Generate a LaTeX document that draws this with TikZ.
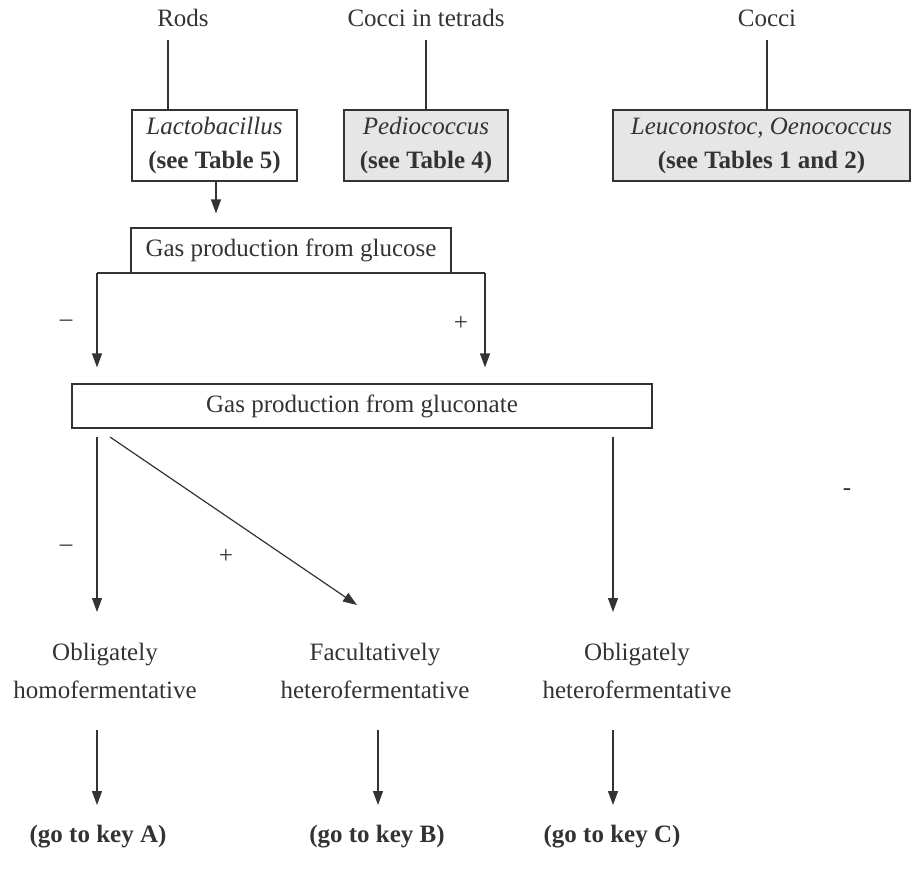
\documentclass[tikz,border=0pt]{standalone}
\usepackage{fontspec}
\setmainfont{Liberation Serif}
\usetikzlibrary{arrows.meta}
\definecolor{ink}{HTML}{333333}
\definecolor{boxgray}{HTML}{E6E6E6}
\tikzset{
  txt/.style={inner sep=0pt, align=center, text=ink, font=\fontsize{12.5}{19}\selectfont},
  keybox/.style={draw=ink, line width=0.6pt, inner sep=0pt, align=center, text=ink, font=\fontsize{12.5}{17}\selectfont},
  arr/.style={-{Triangle[length=7pt,width=5pt]}},
}
\begin{document}
\begin{tikzpicture}[x=0.5pt,y=-0.5pt,line width=0.6pt,draw=ink]
  \useasboundingbox (0,0) rectangle (911,880);
  % oberste Reihe
  \node [txt] (rods) at (183,18) {Rods};
  \node [txt] (tetrads) at (426,18) {Cocci in tetrads};
  \node [txt] (cocci) at (767,18) {Cocci};

  \node [keybox, minimum width=82.5pt, minimum height=35.5pt] (lacto) at (214.5,145.5) {\textit{Lactobacillus}\\\textbf{(see Table 5)}};
  \node [keybox, fill=boxgray, minimum width=82pt, minimum height=35.5pt] (pedio) at (426,145.5) {\textit{Pediococcus}\\\textbf{(see Table 4)}};
  \node [keybox, fill=boxgray, minimum width=148.5pt, minimum height=35.5pt] (leuco) at (761.5,145.5) {\textit{Leuconostoc, Oenococcus}\\\textbf{(see Tables 1 and 2)}};

  \coordinate (r1) at (168,40);
  \coordinate (t1) at (426,40);
  \coordinate (c1) at (767,40);
  \draw (r1) -- (r1 |- lacto.north);
  \draw (t1) -- (t1 |- pedio.north);
  \draw (c1) -- (c1 |- leuco.north);

  % Gas aus Glucose
  \node [keybox, minimum width=160pt, minimum height=22.5pt] (glucose) at (291,250.5) {Gas production from glucose};
  \coordinate (l1) at (216,181);
  \draw [arr, shorten >=7pt] (l1) -- (l1 |- glucose.north);

  \coordinate (g1) at (97,273);
  \coordinate (g2) at (485,273);
  \node [keybox, minimum width=290pt, minimum height=22pt] (gluconate) at (362,406) {Gas production from gluconate};
  \draw (g1) -- (g2);
  \draw [arr, shorten >=8pt] (g1) -- (g1 |- gluconate.north);
  \draw [arr, shorten >=8pt] (g2) -- (g2 |- gluconate.north);
  \node [txt] (m1) at (66,323) {\textendash};
  \node [txt] (p1) at (461,323) {+};

  % Gas aus Gluconat
  \node [txt] (homo) at (105,671) {Obligately\\homofermentative};
  \node [txt] (facult) at (375,671) {Facultatively\\heterofermentative};
  \node [txt] (hetero) at (637,671) {Obligately\\heterofermentative};
  \coordinate (h1) at (97,437);
  \coordinate (h2) at (110,437);
  \coordinate (h3) at (613,437);
  \coordinate (f1) at (357,605);
  \draw [arr] (h1) -- (97,612);
  \draw [arr] (h2) -- (f1);
  \draw [arr] (h3) -- (613,612);
  \node [txt] (m2) at (66,548) {\textendash};
  \node [txt] (p2) at (226,556) {+};
  \node [txt] (dash) at (847,492) {-};

  % Schluessel
  \node [txt] (keyA) at (98,837) {\textbf{(go to key A)}};
  \node [txt] (keyB) at (377,837) {\textbf{(go to key B)}};
  \node [txt] (keyC) at (612,837) {\textbf{(go to key C)}};
  \draw [arr] (97,730) -- (97,805);
  \draw [arr] (378,730) -- (378,805);
  \draw [arr] (613,730) -- (613,805);
\end{tikzpicture}
\end{document}
